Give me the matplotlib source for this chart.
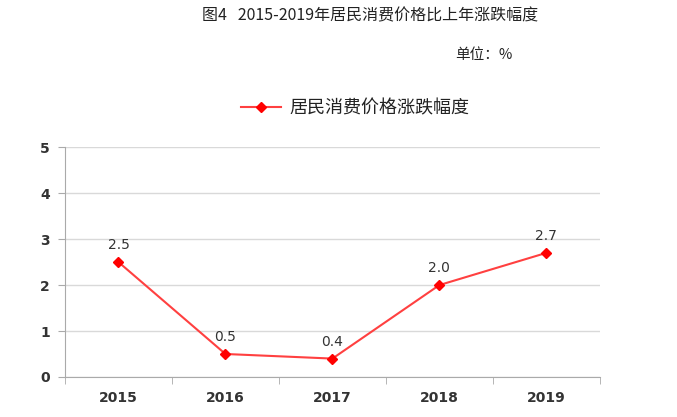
import numpy as np
import matplotlib.pyplot as plt
from matplotlib.lines import Line2D

plt.rcParams['font.family'] = ['Noto Sans CJK SC', 'DejaVu Sans']

# 数据
years = ['2015', '2016', '2017', '2018', '2019']
values = [2.5, 0.5, 0.4, 2.0, 2.7]
series_name = '居民消费价格涨跌幅度'
title = '图4   2015-2019年居民消费价格比上年涨跌幅度'
unit = '单位：%'

red = '#ff0000'
line_red = '#ff4040'

fig = plt.figure(figsize=(6.77, 4.17), dpi=100)
ax = fig.add_axes([0.096, 0.096, 0.790, 0.551])

x = np.arange(len(years))
ax.plot(x, values, color=line_red, lw=1.5, zorder=3)
ax.plot(x, values, ls='none', marker='D', ms=5.5, color=red, zorder=4)
for xi, v in zip(x, values):
    ax.annotate(f'{v:.1f}', (xi, v), xytext=(0, 7), textcoords='offset points',
                ha='center', va='bottom', fontsize=10, color='#333333',
                family='DejaVu Sans')

ax.set_xlim(-0.5, len(years) - 0.5)
ax.set_ylim(0, 5)
ax.set_yticks(range(0, 6))
ax.set_xticks(x)
ax.set_xticklabels(years)
ax.set_xticks(np.arange(-0.5, len(years)), minor=True)
ax.tick_params(axis='x', which='major', length=0, pad=10, labelsize=10,
               labelcolor='#333333')
ax.tick_params(axis='x', which='minor', length=5, color='#aaaaaa', direction='out')
ax.tick_params(axis='y', length=5, color='#aaaaaa', pad=6, labelsize=10,
               labelcolor='#333333')
for lab in ax.get_xticklabels() + ax.get_yticklabels():
    lab.set_family('DejaVu Sans')
    lab.set_fontweight('bold')

ax.grid(axis='y', color='#d9d9d9', lw=1)
ax.set_axisbelow(True)
for s in ['top', 'right']:
    ax.spines[s].set_visible(False)
ax.spines['left'].set_color('#aaaaaa')
ax.spines['bottom'].set_color('#aaaaaa')

handle = Line2D([], [], color=line_red, lw=1.5, marker='D', ms=5.5,
                markerfacecolor=red, markeredgecolor=red)
leg = fig.legend([handle], [series_name], loc='center', bbox_to_anchor=(0.525, 0.74),
                 frameon=False, fontsize=13, handlelength=2.2, handletextpad=0.5)
for t in leg.get_texts():
    t.set_fontweight('medium')
    t.set_color('#222222')

fig.text(0.546, 0.962, title, ha='center', va='center', fontsize=11.5, color='#222222')
fig.text(0.672, 0.867, unit, ha='left', va='center', fontsize=10.5, color='#222222')

fig.savefig('out.png', dpi=100)
